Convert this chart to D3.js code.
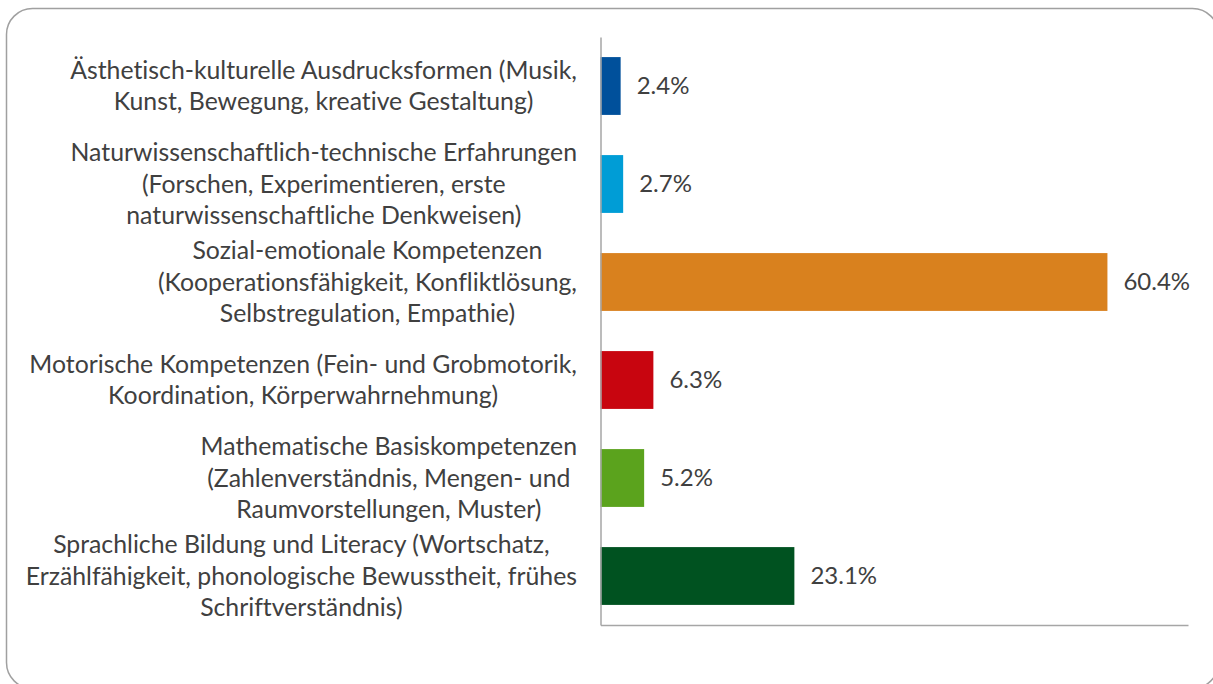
<!DOCTYPE html>
<html>
<head>
<meta charset="utf-8">
<script src="https://cdn.jsdelivr.net/npm/d3@7"></script>
<style>
  body { margin: 0; background: #fff; }
  svg text { font-family: Lato, "Open Sans", sans-serif; fill: #404040; font-variant-ligatures: none; }
</style>
</head>
<body>
<div id="chart"></div>
<script>
// categories (wrapped as in the original), top to bottom
let categoryLines = [
	["Ästhetisch-kulturelle Ausdrucksformen (Musik,", "Kunst, Bewegung, kreative Gestaltung)"],
	["Naturwissenschaftlich-technische Erfahrungen", "(Forschen, Experimentieren, erste", "naturwissenschaftliche Denkweisen)"],
	["Sozial-emotionale Kompetenzen", "(Kooperationsfähigkeit, Konfliktlösung,", "Selbstregulation, Empathie)"],
	["Motorische Kompetenzen (Fein- und Grobmotorik,", "Koordination, Körperwahrnehmung)"],
	["Mathematische Basiskompetenzen", "(Zahlenverständnis, Mengen- und", "Raumvorstellungen, Muster)"],
	["Sprachliche Bildung und Literacy (Wortschatz,", "Erzählfähigkeit, phonologische Bewusstheit, frühes", "Schriftverständnis)"]
];
let values = [2.4, 2.7, 60.4, 6.3, 5.2, 23.1];
let barColors = ["#00509b", "#009dd6", "#d9811e", "#c8050f", "#5ba31d", "#005220"];
let xMax = 70;

let width = 1213, height = 684;
let margin = { top: 37, right: 25, bottom: 59, left: 600.5 };

let svg = d3.select("#chart").append("svg")
	.attr("width", width)
	.attr("height", height);

// outer rounded frame (runs past the right and bottom edges)
svg.append("rect")
	.attr("x", 6.5).attr("y", 8.5)
	.attr("width", 1212).attr("height", 680)
	.attr("rx", 26).attr("ry", 26)
	.attr("fill", "#fff")
	.attr("stroke", "#a0a0a0")
	.attr("stroke-width", 1.5);

let idx = d3.range(values.length);

let x = d3.scaleLinear()
	.domain([0, xMax])
	.range([margin.left, width - margin.right]);

let y = d3.scaleBand()
	.domain(idx)
	.range([margin.top, height - margin.bottom])
	.paddingInner(0.41)
	.paddingOuter(0.205);

// bars
svg.append("g")
	.selectAll("rect")
	.data(idx)
	.enter().append("rect")
	.attr("x", x(0))
	.attr("y", function (i) { return y(i); })
	.attr("width", function (i) { return x(values[i]) - x(0); })
	.attr("height", y.bandwidth())
	.attr("fill", function (i) { return barColors[i]; });

// axes (lines only)
svg.append("g")
	.attr("transform", "translate(0," + (height - margin.bottom) + ")")
	.call(d3.axisBottom(x).tickValues([]).tickSizeOuter(0));
svg.append("g")
	.attr("transform", "translate(" + x(0) + ",0)")
	.call(d3.axisLeft(y).tickValues([]).tickSizeOuter(0));
svg.selectAll(".domain")
	.attr("stroke", "#a6a6a6")
	.attr("stroke-width", 1.5);

// value labels
svg.append("g")
	.selectAll("text")
	.data(idx)
	.enter().append("text")
	.attr("x", function (i) { return x(values[i]) + 16; })
	.attr("y", function (i) { return y(i) + y.bandwidth() / 2; })
	.attr("dy", "0.35em")
	.style("font-size", "24px")
	.text(function (i) { return values[i].toFixed(1) + "%"; });

// category labels: centred lines, block right-aligned next to the axis
let lineH = 31.5;
let labelRight = x(0) - 23.5;
idx.forEach(function (i) {
	let lines = categoryLines[i];
	let cy = y(i) + y.bandwidth() / 2;
	let t = svg.append("text")
		.style("font-size", "24.8px")
		.attr("text-anchor", "middle");
	lines.forEach(function (l, k) {
		t.append("tspan")
			.attr("y", cy + (k - (lines.length - 1) / 2) * lineH)
			.attr("dy", "0.35em")
			.text(l);
	});
	let maxW = d3.max(t.selectAll("tspan").nodes(), function (n) { return n.getComputedTextLength(); });
	t.selectAll("tspan").attr("x", labelRight - maxW / 2);
});
</script>
</body>
</html>
